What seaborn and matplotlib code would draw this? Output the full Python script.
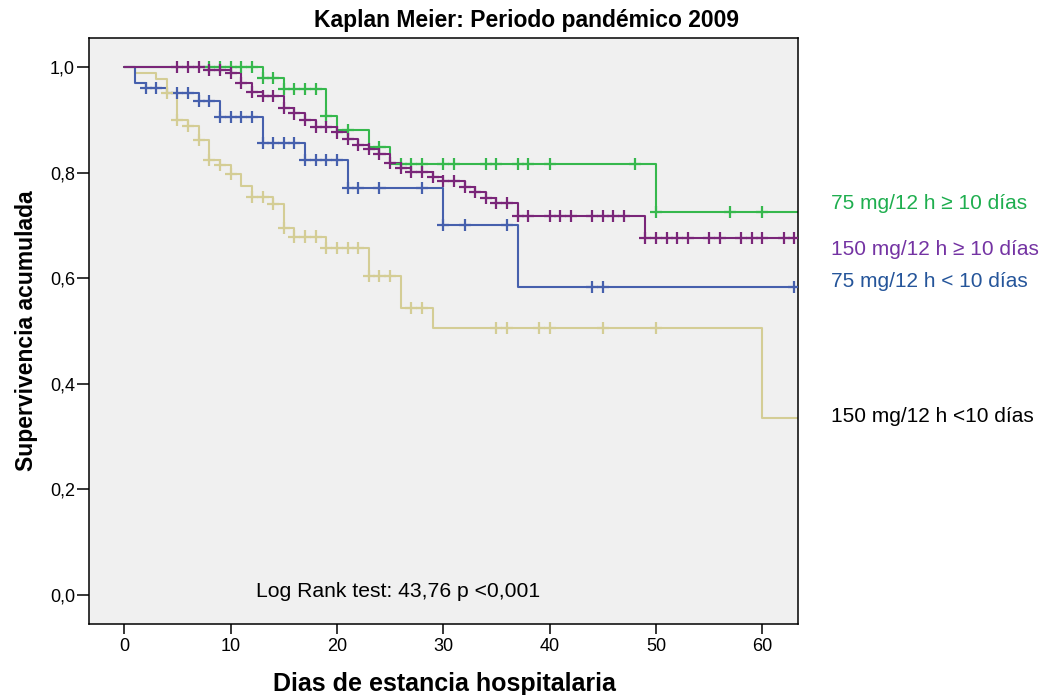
import numpy as np
import pandas as pd
import matplotlib
matplotlib.use("Agg")
import matplotlib.pyplot as plt
import seaborn as sns

# ---- groups -------------------------------------------------------------
group_labels = [
    "75 mg/12 h ≥ 10 días",
    "150 mg/12 h ≥ 10 días",
    "75 mg/12 h < 10 días",
    "150 mg/12 h <10 días",
]
line_colors = ["#36b84d", "#7a2679", "#4660ad", "#d4cd95"]
label_colors = ["#1fae4f", "#7433a3", "#25559a", "#000000"]

# ---- Kaplan-Meier estimates: event days and survival after each event ----
g1_event_days = [13, 15, 19, 20, 23, 25, 50]
g1_survival = [0.979, 0.958, 0.907, 0.881, 0.849, 0.816, 0.725]
g1_censored = [8, 9, 10, 11, 12, 13, 14, 15, 16, 17, 18, 19, 21, 24, 26, 27,
               28, 30, 31, 34, 35, 37, 38, 40, 48, 50, 57, 60]

g2_event_days = [8, 10, 11, 12, 13, 15, 16, 17, 18, 20, 21, 22, 23, 24, 25,
                 26, 27, 29, 30, 32, 33, 34, 35, 37, 49]
g2_survival = [0.994, 0.988, 0.970, 0.953, 0.945, 0.922, 0.912, 0.900, 0.887,
               0.876, 0.863, 0.852, 0.844, 0.836, 0.818, 0.808, 0.802, 0.792,
               0.785, 0.773, 0.764, 0.752, 0.742, 0.717, 0.677]
g2_censored = [5, 6, 7, 8, 9, 10, 11, 12, 13, 14, 15, 16, 17, 18, 19, 20, 21,
               22, 23, 24, 25, 26, 27, 28, 29, 30, 31, 32, 33, 34, 35, 36, 37,
               38, 40, 41, 42, 44, 45, 46, 47, 49, 50, 51, 52, 53, 55, 56, 58,
               59, 60, 62, 63]

g3_event_days = [1, 2, 4, 7, 9, 13, 17, 21, 30, 37]
g3_survival = [0.970, 0.960, 0.950, 0.936, 0.906, 0.857, 0.823, 0.770, 0.701,
               0.583]
g3_censored = [2, 3, 5, 6, 7, 8, 9, 10, 11, 12, 13, 14, 15, 16, 17, 18, 19, 20,
               21, 22, 24, 28, 30, 32, 36, 44, 45, 63]

g4_event_days = [1, 3, 4, 5, 6, 7, 8, 9, 10, 11, 12, 14, 15, 16, 19, 23, 26,
                 29, 60]
g4_survival = [0.988, 0.977, 0.951, 0.900, 0.888, 0.862, 0.824, 0.815, 0.797,
               0.775, 0.753, 0.741, 0.696, 0.679, 0.658, 0.604, 0.544, 0.506,
               0.336]
g4_censored = [4, 5, 6, 7, 8, 9, 10, 12, 13, 14, 15, 16, 17, 18, 19, 20, 21,
               22, 23, 24, 25, 27, 28, 35, 36, 39, 40, 45, 50]

follow_up_end = [63.4, 63.4, 63.4, 63.4]

y_ticks = [0.0, 0.2, 0.4, 0.6, 0.8, 1.0]
y_tick_labels = ["0,0", "0,2", "0,4", "0,6", "0,8", "1,0"]
x_ticks = [0, 10, 20, 30, 40, 50, 60]
x_tick_labels = ["0", "10", "20", "30", "40", "50", "60"]

title_text = "Kaplan Meier: Periodo pandémico 2009"
x_label = "Dias de estancia hospitalaria"
y_label = "Supervivencia acumulada"
test_text = "Log Rank test: 43,76 p <0,001"


def step_frame(label, days, surv, end):
    d = [0.0] + list(days) + [end]
    s = [1.0] + list(surv) + [surv[-1]]
    return pd.DataFrame({"dias": d, "surv": s, "grupo": label})


def censor_frame(label, days, surv, cens):
    days = np.asarray(days, dtype=float)
    surv = np.asarray(surv, dtype=float)
    idx = np.searchsorted(days, np.asarray(cens, dtype=float), side="right")
    s_at = np.where(idx > 0, surv[np.maximum(idx - 1, 0)], 1.0)
    return pd.DataFrame({"dias": cens, "surv": s_at, "grupo": label})


events = [g1_event_days, g2_event_days, g3_event_days, g4_event_days]
survs = [g1_survival, g2_survival, g3_survival, g4_survival]
cens = [g1_censored, g2_censored, g3_censored, g4_censored]

curves = pd.concat(
    [step_frame(lab, e, s, end) for lab, e, s, end in
     zip(group_labels, events, survs, follow_up_end)], ignore_index=True)
marks = pd.concat(
    [censor_frame(lab, e, s, c) for lab, e, s, c in
     zip(group_labels, events, survs, cens)], ignore_index=True)

palette = dict(zip(group_labels, line_colors))
draw_order = [group_labels[3], group_labels[2], group_labels[0], group_labels[1]]

# ---- figure ---------------------------------------------------------------
sns.set_theme(style="white")
plt.rcParams["font.family"] = ["Liberation Sans", "DejaVu Sans"]
plt.rcParams["text.color"] = "black"
plt.rcParams["axes.labelcolor"] = "black"
plt.rcParams["xtick.color"] = "black"
plt.rcParams["ytick.color"] = "black"

W, H = 1044, 695
fig = plt.figure(figsize=(W / 100, H / 100), dpi=100)
ax = fig.add_axes([89 / W, 1 - 624 / H, (798 - 89) / W, (624 - 38) / H])
ax.set_facecolor("#f0f0f0")

sns.lineplot(data=curves, x="dias", y="surv", hue="grupo", hue_order=draw_order,
             palette=palette, estimator=None, sort=False,
             drawstyle="steps-post", linewidth=1.5, legend=False, ax=ax)
sns.scatterplot(data=marks, x="dias", y="surv", hue="grupo",
                hue_order=draw_order, palette=palette, marker="+", s=75,
                linewidth=1.6, legend=False, ax=ax, zorder=3)

ax.set_xlim(-3.32, 63.36)
ax.set_ylim(-0.055, 1.055)
ax.set_xticks(x_ticks)
ax.set_xticklabels(x_tick_labels, fontsize=13, color="black")
ax.set_yticks(y_ticks)
ax.set_yticklabels(y_tick_labels, fontsize=13, color="black")
ax.tick_params(axis="y", direction="out", length=8.5, width=1.1, pad=1.5,
               left=True, colors="black")
ax.tick_params(axis="x", direction="out", length=7.2, width=1.1, pad=3,
               bottom=True, colors="black")
ax.set_xlabel("")
ax.set_ylabel("")
for sp in ax.spines.values():
    sp.set_visible(True)
    sp.set_color("black")
    sp.set_linewidth(1.1)

# titles and labels
fig.text(527 / W, 1 - 27 / H, title_text, ha="center", va="baseline",
         fontsize=16.5, fontweight="bold", color="black")
fig.text(444 / W, 1 - 691 / H, x_label, ha="center", va="baseline",
         fontsize=18, fontweight="bold", color="black")
fig.text(27 / W, 1 - 331 / H, y_label, ha="center", va="center",
         rotation=90, fontsize=16.5, fontweight="bold", color="black")
ax.text((256 - 89) / (798 - 89), (624 - 597) / (624 - 38), test_text,
        transform=ax.transAxes, ha="left", va="baseline", fontsize=15.2,
        color="black")

# group labels to the right of the panel
label_baselines = [209, 255, 287, 422]
for lab, col, yb in zip(group_labels, label_colors, label_baselines):
    fig.text(831 / W, 1 - yb / H, lab, ha="left", va="baseline",
             fontsize=15, color=col)

fig.savefig("out.png", dpi=100, facecolor="white")
